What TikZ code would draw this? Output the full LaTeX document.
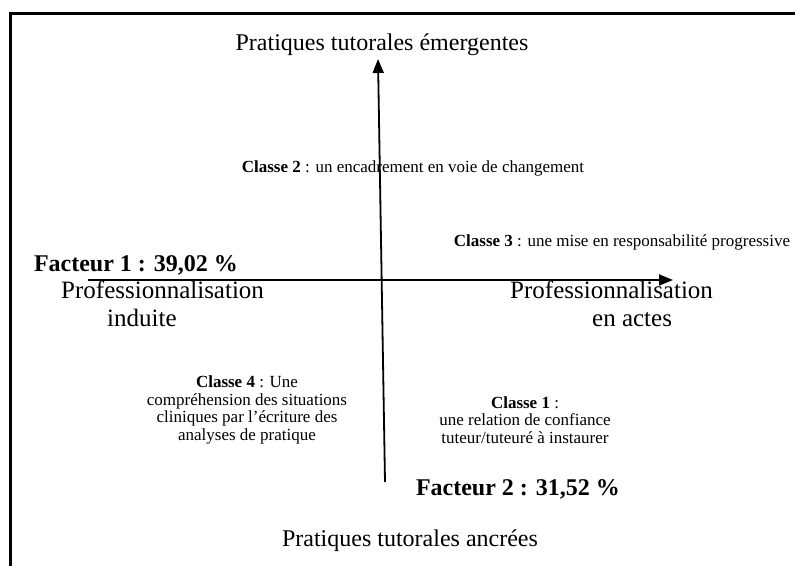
\documentclass[tikz,border=0pt]{standalone}
\usepackage{fontspec}
\setmainfont{Liberation Serif}
\usepackage{tikz}
\usetikzlibrary{arrows.meta}
\tikzset{
  poletext/.style   = {font=\fontsize{24}{26}\selectfont, inner sep=0pt},
  axistext/.style   = {font=\fontsize{25}{27.5}\selectfont, inner sep=0pt, align=left},
  factortext/.style = {font=\fontsize{24}{26}\selectfont\bfseries, inner sep=0pt},
  classtext/.style  = {font=\fontsize{17}{17.8}\selectfont, inner sep=0pt, align=center},
  axisline/.style   = {-{Triangle[length=14pt,width=11pt]}, line width=1.8pt},
}

\begin{document}
\begin{tikzpicture}[x=1pt, y=-1pt]
    \useasboundingbox (0,0) rectangle (795,565);
    \clip (0,0) rectangle (795,565);
    % Frame (cut at right and bottom)
    \draw[line width=3pt] (10,13) rectangle (805,575);

    % Axis ends
    \coordinate (hstart) at (88,280);
    \coordinate (hend) at (673,280);
    \coordinate (vstart) at (385,482);
    \coordinate (vend) at (378,59);

    % Axes
    \draw[axisline] (hstart) -- (hend);
    \draw[axisline] (vstart) -- (vend);

    % Poles
    \node[poletext] (top) at (382,45) {Pratiques tutorales émergentes};
    \node[poletext] (bottom) at (410,541) {Pratiques tutorales ancrées};
    \node[axistext, anchor=north west] (left) at (61,281) {Professionnalisation\\\hspace*{46pt}induite};
    \node[axistext, anchor=north west] (right) at (510,281) {Professionnalisation\\\hspace*{82pt}en actes};

    % Factors
    \node[factortext] (fac1) at (136,265) {Facteur 1 : 39,02 \%};
    \node[factortext] (fac2) at (518,489) {Facteur 2 : 31,52 \%};

    % Classes
    \node[classtext] (cl2) at (413,168) {\textbf{Classe 2} : un encadrement en voie de changement};
    \node[classtext] (cl3) at (622,242) {\textbf{Classe 3} : une mise en responsabilité progressive};
    \node[classtext] (cl4) at (247,410) {\textbf{Classe 4} : Une\\compréhension des situations\\cliniques par l’écriture des\\analyses de pratique};
    \node[classtext] (cl1) at (525,420) {\textbf{Classe 1} :\\une relation de confiance\\tuteur/tuteuré à instaurer};
\end{tikzpicture}
\end{document}
